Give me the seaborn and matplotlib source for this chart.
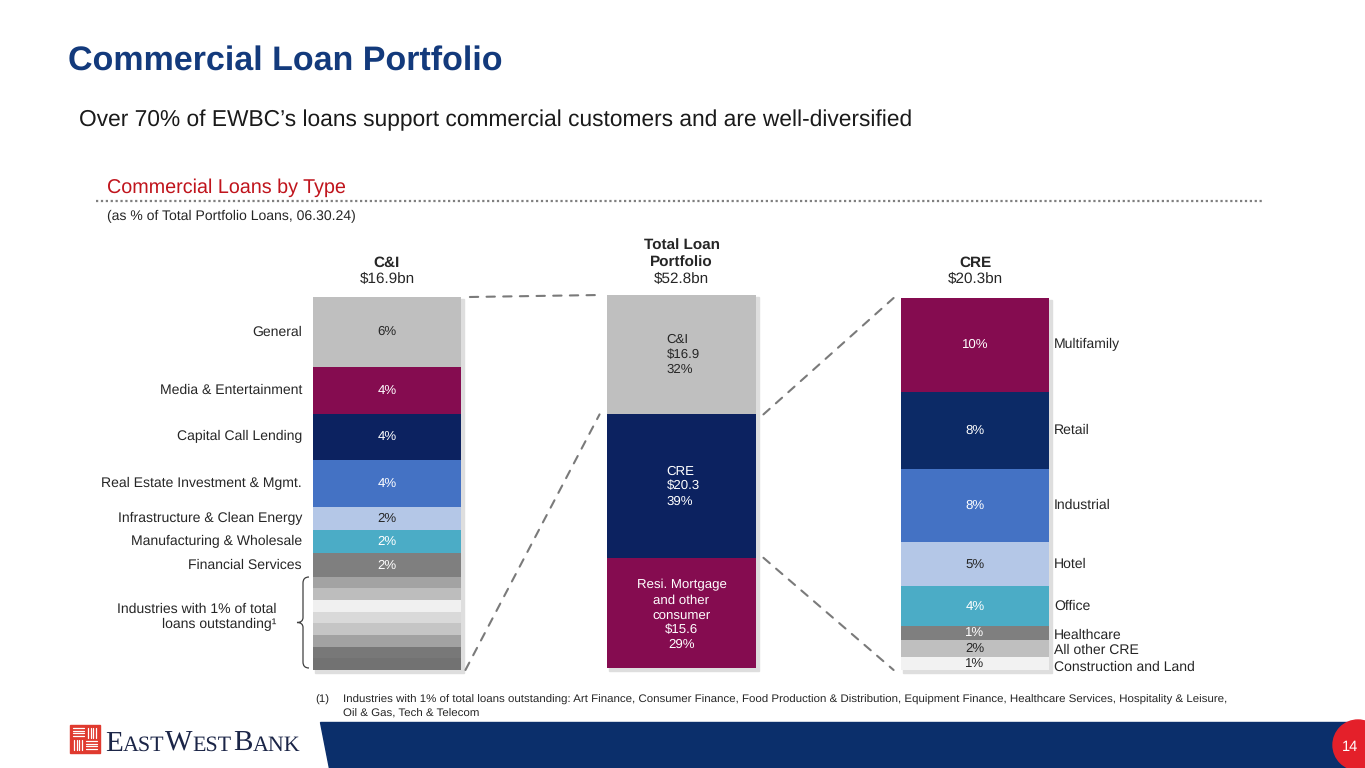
import numpy as np
import pandas as pd
import matplotlib
matplotlib.use("Agg")
import matplotlib.pyplot as plt
import seaborn as sns
from matplotlib.patches import ConnectionPatch, Rectangle, Polygon, Circle, PathPatch
from matplotlib.path import Path

sns.set_style("white")
plt.rcParams['font.family'] = ['Liberation Sans', 'DejaVu Sans']
plt.rcParams['text.hinting'] = 'no_hinting'

# ---------------- data ----------------
ci_labels = ["General", "Media & Entertainment", "Capital Call Lending",
             "Real Estate Investment & Mgmt.", "Infrastructure & Clean Energy",
             "Manufacturing & Wholesale", "Financial Services",
             "1a", "1b", "1c", "1d", "1e", "1f", "1g", "1h"]
ci_values = [6, 4, 4, 4, 2, 2, 2, 1, 1, 1, 1, 1, 1, 1, 1]
ci_text = ["6%", "4%", "4%", "4%", "2%", "2%", "2%"] + [""] * 8
ci_colors = ["#bfbfbf", "#850c50", "#0c2260", "#4472c4", "#b4c7e7", "#4bacc6", "#7f7f7f",
             "#a3a3a3", "#bdbdbd", "#f0f0f0", "#d9d9d9", "#c5c5c5", "#a2a2a2", "#787878", "#727272"]
ci_textcol = ["#262626", "white", "white", "white", "#262626", "white", "white"] + ["white"] * 8

tot_labels = ["C&I", "CRE", "Resi. Mortgage\nand other\nconsumer"]
tot_values = [16.9, 20.3, 15.6]
tot_pct = ["32%", "39%", "29%"]
tot_colors = ["#bfbfbf", "#0c2260", "#850c50"]
tot_textcol = ["#262626", "white", "white"]

cre_labels = ["Multifamily", "Retail", "Industrial", "Hotel", "Office",
              "Healthcare", "All other CRE", "Construction and Land"]
cre_values = [9.9, 8.1, 7.7, 4.7, 4.2, 1.4, 1.8, 1.4]
cre_text = ["10%", "8%", "8%", "5%", "4%", "1%", "2%", "1%"]
cre_colors = ["#850c50", "#0c2a66", "#4472c4", "#b4c7e7", "#4bacc6", "#7f7f7f", "#bfbfbf", "#f2f2f2"]
cre_textcol = ["white", "white", "white", "#262626", "white", "white", "#262626", "#262626"]

headers = [("C&I", "$16.9bn"), ("Total Loan\nPortfolio", "$52.8bn"), ("CRE", "$20.3bn")]

W, H = 1365, 768
fig = plt.figure(figsize=(W / 100, H / 100), dpi=100)
fig.patch.set_facecolor("white")


def fax(x0, y0, x1, y1):
    return [x0 / W, 1 - y1 / H, (x1 - x0) / W, (y1 - y0) / H]


# overlay axes in pixel coordinates
ov = fig.add_axes([0, 0, 1, 1])
ov.set_xlim(0, W)
ov.set_ylim(H, 0)
ov.axis("off")
ov.patch.set_alpha(0)


def stacked(ax, values, colors):
    cum = np.cumsum(values)
    for i in reversed(range(len(values))):
        df = pd.DataFrame({"x": ["a"], "y": [cum[i]]})
        sns.barplot(data=df, x="x", y="y", color=colors[i], saturation=1, width=1.0,
                    ax=ax, linewidth=0, edgecolor="none")
    ax.set_xlim(-0.5, 0.5)
    ax.set_ylim(cum[-1], 0)
    ax.axis("off")
    return cum


def shadow(box):
    x0, y0, x1, y1 = box
    ov.add_patch(Rectangle((x0 + 2, y0 + 2), x1 - x0 + 1, y1 - y0 + 1, color="#dedede", zorder=0))


boxes = [(313, 297, 461, 670), (607, 295, 756, 668), (901, 298, 1049, 670)]
for b in boxes:
    shadow(b)

ax1 = fig.add_axes(fax(*boxes[0]))
ax2 = fig.add_axes(fax(*boxes[1]))
ax3 = fig.add_axes(fax(*boxes[2]))
for a in (ax1, ax2, ax3):
    a.patch.set_alpha(0)

cum1 = stacked(ax1, ci_values, ci_colors)
cum2 = stacked(ax2, tot_values, tot_colors)
cum3 = stacked(ax3, cre_values, cre_colors)

lab_fs = 10.1
pct_fs = 9.5
# left bar texts
for i, v in enumerate(ci_values):
    yc = cum1[i] - v / 2
    if ci_text[i]:
        ax1.text(0, yc, ci_text[i], ha="center", va="center", fontsize=pct_fs, color=ci_textcol[i])
        ax1.text(-0.574, yc, ci_labels[i], ha="right", va="center", fontsize=lab_fs, color="#262626")

ov.text(276, 617, "Industries with 1% of total\nloans outstanding\u00b9", ha="right",
        va="center", fontsize=lab_fs, color="#262626", linespacing=1.25)

# brace
bx, by0, by1 = 303, 577, 668
ym = (by0 + by1) / 2
verts = [(bx + 6, by0), (bx, by0), (bx, by0 + 6), (bx, ym - 5), (bx, ym), (bx - 6, ym),
         (bx, ym), (bx, ym + 5), (bx, by1 - 6), (bx, by1), (bx + 6, by1)]
codes = [Path.MOVETO, Path.CURVE3, Path.CURVE3, Path.LINETO, Path.CURVE3, Path.CURVE3,
         Path.CURVE3, Path.CURVE3, Path.LINETO, Path.CURVE3, Path.CURVE3]
ov.add_patch(PathPatch(Path(verts, codes), fill=False, edgecolor="#404040", lw=0.9))

# middle bar texts
for i, v in enumerate(tot_values):
    yc = cum2[i] - v / 2
    s = f"{tot_labels[i]}\n${v:.1f}\n{tot_pct[i]}"
    if i < 2:
        ax2.text(-0.1, yc, s, ha="left", va="center", fontsize=pct_fs, color=tot_textcol[i],
                 linespacing=1.3, multialignment="left")
    else:
        ax2.text(0, yc + 0.3, s, ha="center", va="center", fontsize=pct_fs, color=tot_textcol[i],
                 linespacing=1.3)

# right bar texts
for i, v in enumerate(cre_values):
    yc = cum3[i] - v / 2
    ax3.text(0, yc, cre_text[i], ha="center", va="center", fontsize=pct_fs, color=cre_textcol[i])
    off = [0, 0, 0, 0, 0, 0.2, 0.2, 0.4][i]
    ax3.text(0.534, yc + off, cre_labels[i], ha="left", va="center", fontsize=lab_fs, color="#262626")

# headers (pixel coordinates above each bar)
hdr_col = "#262626"
for (b, (h, v)) in zip(boxes, headers):
    xc = (b[0] + b[2]) / 2
    ov.text(xc, 270, h, ha="center", va="bottom", fontsize=11, fontweight="bold", color=hdr_col,
            linespacing=1.25)
    ov.text(xc, 279, v, ha="center", va="center", fontsize=11, color=hdr_col)

# connector lines
dash = dict(color="#7a7a7a", lw=1.5, linestyle=(0, (4, 4)))
conns = [((0.56, 0), ax1, (-0.55, 0), ax2),
         ((0.53, cum1[-1]), ax1, (-0.55, cum2[0]), ax2),
         ((0.55, cum2[0]), ax2, (-0.55, 0), ax3),
         ((0.55, cum2[1]), ax2, (-0.55, cum3[-1]), ax3)]
for xyA, aA, xyB, aB in conns:
    cp = ConnectionPatch(xyA=xyA, coordsA=aA.transData, xyB=xyB, coordsB=aB.transData, **dash)
    fig.add_artist(cp)

# titles
ov.text(68, 61, "Commercial Loan Portfolio", fontsize=24.5, fontweight="bold", color="#133a7c",
        ha="left", va="center")
ov.text(79, 120, "Over 70% of EWBC\u2019s loans support commercial customers and are well-diversified",
        fontsize=16.35, color="#1a1a1a", ha="left", va="center")
ov.text(107, 188, "Commercial Loans by Type", fontsize=14.2, color="#c0141c", ha="left", va="center")
ov.plot([96, 1262], [201, 201], color="#7f7f7f", lw=1.6, linestyle=(0, (1, 1.2)))
ov.text(107, 216, "(as % of Total Portfolio Loans, 06.30.24)", fontsize=10.1, color="#262626",
        ha="left", va="center")

# footnote
fn_fs = 8.24
ov.text(315, 700, "(1)", fontsize=fn_fs, color="#262626", ha="left", va="center")
ov.text(343, 700, "Industries with 1% of total loans outstanding: Art Finance, Consumer Finance, Food Production & "
        "Distribution, Equipment Finance, Healthcare Services, Hospitality & Leisure,",
        fontsize=fn_fs, color="#262626", ha="left", va="center")
ov.text(343, 714, "Oil & Gas, Tech & Telecom", fontsize=fn_fs, color="#262626", ha="left", va="center")

# bottom band
ov.add_patch(Polygon([(320, 722), (W, 722), (W, H), (329, H)], closed=True, color="#0b2f6b", zorder=1))
ov.add_patch(Circle((1358, 745), 25, color="#e4202a", zorder=2))
ov.text(1350, 747, "14", fontsize=10.5, color="white", ha="center", va="center", zorder=3)

# logo
ov.add_patch(Rectangle((70, 725), 30, 28, color="#e03a2f", zorder=2))
for k in range(4):
    ov.plot([73, 84], [728 + 2.6 * k, 728 + 2.6 * k], color="white", lw=0.9, zorder=3)
    ov.plot([88 + 2.6 * k, 88 + 2.6 * k], [728, 738], color="white", lw=0.9, zorder=3)
    ov.plot([74 + 2.6 * k, 74 + 2.6 * k], [740, 750], color="white", lw=0.9, zorder=3)
    ov.plot([86, 97], [741 + 2.6 * k, 741 + 2.6 * k], color="white", lw=0.9, zorder=3)

fig.canvas.draw()
r = fig.canvas.get_renderer()
x = 105
parts = [("E", 21), ("AST", 15.8), ("W", 21), ("EST", 15.8), ("B", 21), ("ANK", 15.8)]
for s, fs in parts:
    t = ov.text(x, 751, s, fontsize=fs, family=["Liberation Serif", "DejaVu Serif"], color="#1b2547",
                ha="left", va="baseline")
    bb = t.get_window_extent(r)
    x = bb.x1 + (1 if s in ("AST", "EST") else 0)

fig.savefig("out.png", dpi=100, facecolor="white")
